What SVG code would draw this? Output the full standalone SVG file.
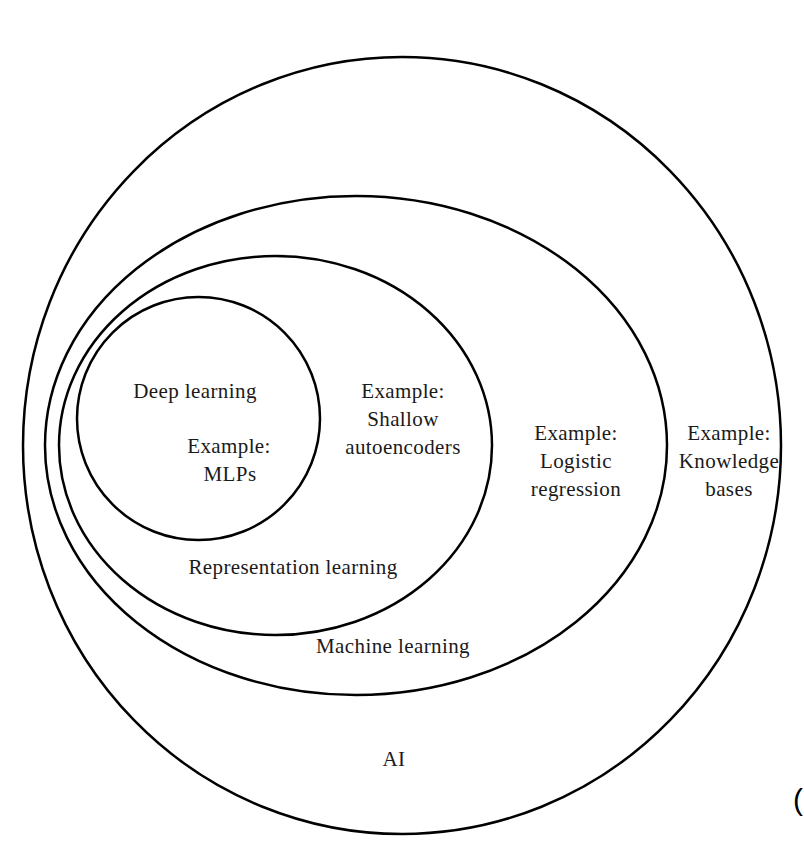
<svg xmlns="http://www.w3.org/2000/svg" width="804" height="866" viewBox="0 0 804 866">
<style>
.set{fill:none;stroke:#000;stroke-width:2.5}
.t{font-family:"Liberation Serif","DejaVu Serif",serif;font-size:21px;letter-spacing:0.4px;fill:#1a1a1a;text-anchor:middle}
</style>
<rect width="804" height="866" fill="#fff"/>
<g id="ai">
<ellipse class="set" cx="402" cy="445.5" rx="379" ry="388.5"/>
<text class="t" x="394" y="766">AI</text>
<text class="t" x="729" y="440">Example:</text>
<text class="t" x="729" y="468">Knowledge</text>
<text class="t" x="729" y="496">bases</text>
</g>
<g id="ml">
<ellipse class="set" cx="356" cy="445.5" rx="311" ry="249.5"/>
<text class="t" x="393" y="653">Machine learning</text>
<text class="t" x="576" y="440">Example:</text>
<text class="t" x="576" y="468">Logistic</text>
<text class="t" x="576" y="496">regression</text>
</g>
<g id="rl">
<ellipse class="set" cx="275.5" cy="445.5" rx="216.5" ry="189.5"/>
<text class="t" x="293" y="574">Representation learning</text>
<text class="t" x="403" y="398">Example:</text>
<text class="t" x="403" y="426">Shallow</text>
<text class="t" x="403" y="454">autoencoders</text>
</g>
<g id="dl">
<circle class="set" cx="198.5" cy="418.5" r="121.5"/>
<text class="t" x="195" y="398">Deep learning</text>
<text class="t" x="229" y="453">Example:</text>
<text class="t" x="230" y="481">MLPs</text>
</g>
<text x="793" y="810" style="font-family:'Liberation Sans',sans-serif;font-size:30px;fill:#000">(</text>
</svg>
